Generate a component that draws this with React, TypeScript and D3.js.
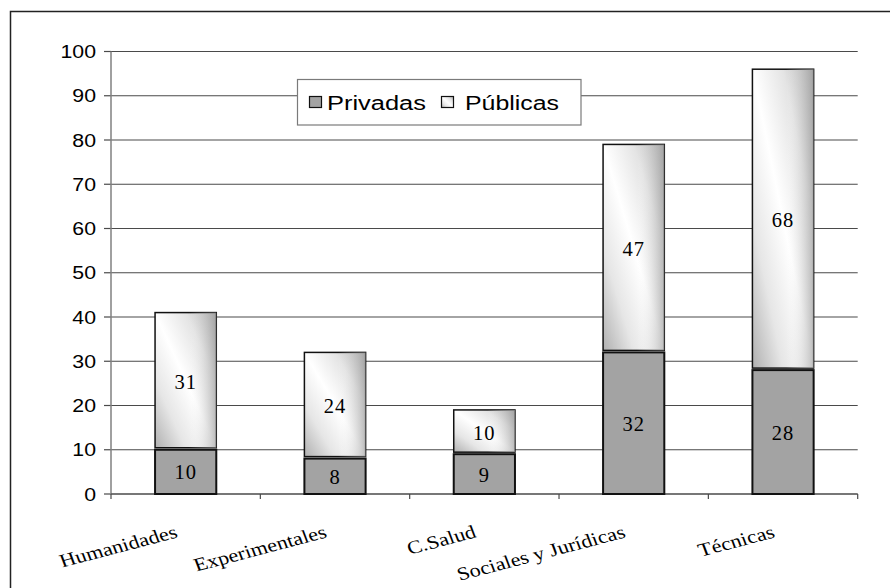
import React from "react";
import * as d3 from "d3";

const categories = ["Humanidades", "Experimentales", "C.Salud", "Sociales y Jurídicas", "Técnicas"];
const privadas = [10, 8, 9, 32, 28];
const publicas = [31, 24, 10, 47, 68];
const yTicks = [0, 10, 20, 30, 40, 50, 60, 70, 80, 90, 100];
const legendLabels = ["Privadas", "Públicas"];

const W = 890;
const H = 588;

export default function App() {
  const x = d3.scaleBand<string>().domain(categories).range([111, 857.7]).paddingInner(0.59).paddingOuter(0.295);
  const y = d3.scaleLinear().domain([0, 100]).range([494, 51.5]);
  const step = x.step();
  const x0 = 111;
  const x1 = 857.7;
  const boundaries = d3.range(categories.length + 1).map((i) => x0 + i * step);

  return (
    <svg width={W} height={H} style={{ position: "absolute", left: 0, top: 0, overflow: "hidden", background: "#fff" }}>
      <defs>
        <linearGradient id="pubGrad" x1="0" y1="1" x2="1" y2="0">
          <stop offset="0" stopColor="#b0b0b0" />
          <stop offset="0.25" stopColor="#e6e6e6" />
          <stop offset="0.5" stopColor="#ffffff" />
          <stop offset="0.75" stopColor="#e4e4e4" />
          <stop offset="1" stopColor="#a8a8a8" />
        </linearGradient>
        <linearGradient id="pubGradH" x1="0" y1="0" x2="1" y2="0">
          <stop offset="0" stopColor="#ffffff" stopOpacity="0" />
          <stop offset="0.55" stopColor="#ffffff" stopOpacity="0" />
          <stop offset="1" stopColor="#a0a0a0" stopOpacity="0.7" />
        </linearGradient>
      </defs>
      <rect x={10.5} y={11.5} width={1000} height={1000} fill="#fff" stroke="#222" strokeWidth={1.5} />

      {/* gridlines */}
      {yTicks.map((t) => (
        <line key={"g" + t} x1={x0} x2={x1} y1={y(t)} y2={y(t)} stroke="#4a4a4a" strokeWidth={1.2} />
      ))}
      {/* y tick marks */}
      {yTicks.map((t) => (
        <line key={"yt" + t} x1={104} x2={x0} y1={y(t)} y2={y(t)} stroke="#4a4a4a" strokeWidth={1.2} />
      ))}
      {/* y axis */}
      <line x1={x0} x2={x0} y1={y(100)} y2={y(0)} stroke="#808080" strokeWidth={1.5} />
      {/* x axis */}
      <line x1={x0} x2={x1} y1={y(0)} y2={y(0)} stroke="#4a4a4a" strokeWidth={1.2} />
      {boundaries.map((b, i) => (
        <line key={"xt" + i} x1={b} x2={b} y1={y(0)} y2={y(0) + 5} stroke="#4a4a4a" strokeWidth={1.2} />
      ))}

      {/* y labels */}
      {yTicks.map((t) => (
        <text
          key={"yl" + t}
          transform={`translate(96,${y(t) + 6.5}) scale(1.15,1)`}
          textAnchor="end"
          fontFamily="Liberation Sans, Arial, sans-serif"
          fontSize={18.5}
          fill="#000"
        >
          {t}
        </text>
      ))}

      {/* bars */}
      {categories.map((c, i) => {
        const bx = x(c) as number;
        const bw = x.bandwidth();
        const yp = y(privadas[i]);
        const yt = y(privadas[i] + publicas[i]);
        return (
          <g key={"b" + c}>
            <rect x={bx} y={yt} width={bw} height={yp - 2 - yt} fill="url(#pubGrad)" stroke="#111" strokeWidth={1.5} />
            <rect x={bx} y={yt} width={bw} height={yp - 2 - yt} fill="url(#pubGradH)" />
            <rect x={bx} y={yp} width={bw} height={y(0) - yp} fill="#a3a3a3" stroke="#111" strokeWidth={2} />
            <text
              x={bx + bw / 2}
              y={(yp + y(0)) / 2 + 7.5}
              textAnchor="middle"
              fontFamily="Liberation Serif, Times New Roman, serif"
              fontSize={20.5}
              letterSpacing={1}
              fill="#000"
            >
              {privadas[i]}
            </text>
            <text
              x={bx + bw / 2}
              y={(yt + yp) / 2 + 7.5}
              textAnchor="middle"
              fontFamily="Liberation Serif, Times New Roman, serif"
              fontSize={20.5}
              letterSpacing={1}
              fill="#000"
            >
              {publicas[i]}
            </text>
          </g>
        );
      })}

      {/* x labels */}
      {categories.map((c, i) => {
        const cx = (x(c) as number) + x.bandwidth() / 2;
        return (
          <text
            key={"xl" + c}
            transform={`translate(${cx - 7},537) scale(1.2,1) rotate(-17.5)`}
            textAnchor="end"
            fontFamily="Liberation Serif, Times New Roman, serif"
            fontSize={18.5}
            fill="#000"
          >
            {c}
          </text>
        );
      })}

      {/* legend */}
      <rect x={297.5} y={79.5} width={283.5} height={45.5} fill="#fff" stroke="#7a7a7a" strokeWidth={1.2} />
      <rect x={309.5} y={96.5} width={12} height={11} fill="#a3a3a3" stroke="#111" strokeWidth={1.2} />
      <text x={327} y={109.5} fontFamily="Liberation Sans, Arial, sans-serif" fontSize={19.5} textLength={99} lengthAdjust="spacingAndGlyphs" fill="#000">
        {legendLabels[0]}
      </text>
      <rect x={441.5} y={96.5} width={12} height={11} fill="url(#pubGrad)" stroke="#111" strokeWidth={1.2} />
      <text x={465} y={109.5} fontFamily="Liberation Sans, Arial, sans-serif" fontSize={19.5} textLength={94} lengthAdjust="spacingAndGlyphs" fill="#000">
        {legendLabels[1]}
      </text>
    </svg>
  );
}
